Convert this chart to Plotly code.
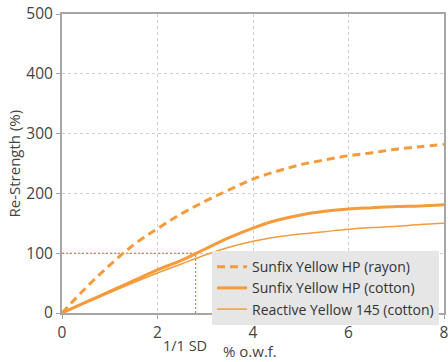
import plotly.graph_objects as go

# Data
x_vals = [0, 0.5, 1, 1.5, 2, 2.5, 3, 3.5, 4, 4.5, 5, 5.5, 6, 6.5, 7, 7.5, 8]
rayon = [0, 42, 80, 114, 141, 166, 187, 206, 224, 237, 248, 256, 263, 268, 274, 278, 282]
sunfix_cotton = [0, 18, 36, 54, 72, 88, 107, 126, 142, 155, 164, 170, 174, 176, 178, 179, 181]
reactive_cotton = [0, 17, 34, 51, 67, 82, 97, 110, 120, 127, 132, 136, 140, 143, 145, 148, 150]
series_names = ["Sunfix Yellow HP (rayon)", "Sunfix Yellow HP (cotton)", "Reactive Yellow 145 (cotton)"]
sd_x = 2.8
sd_y = 100
x_ticks = [0, 2, 4, 6, 8]
y_ticks = [0, 100, 200, 300, 400, 500]

ORANGE = "#F59B3C"
RED = "#E8553A"
FONT = "Open Sans"
TXT = "#444"

fig = go.Figure()
fig.add_trace(go.Scatter(x=[0, sd_x], y=[sd_y, sd_y], mode="lines", showlegend=False,
                         line=dict(color=RED, width=1, dash="2px,2px"), hoverinfo="skip"))
fig.add_trace(go.Scatter(x=[sd_x, sd_x], y=[0, sd_y], mode="lines", showlegend=False,
                         line=dict(color=RED, width=1, dash="2px,2px"), hoverinfo="skip"))
fig.add_trace(go.Scatter(x=x_vals, y=rayon, mode="lines", name=series_names[0],
                         line=dict(color=ORANGE, width=3, dash="8px,5px", shape="spline")))
fig.add_trace(go.Scatter(x=x_vals, y=sunfix_cotton, mode="lines", name=series_names[1],
                         line=dict(color=ORANGE, width=3, shape="spline")))
fig.add_trace(go.Scatter(x=x_vals, y=reactive_cotton, mode="lines", name=series_names[2],
                         line=dict(color=ORANGE, width=1.5, shape="spline")))

axis_common = dict(showline=True, linecolor="#a6a6a6", linewidth=2, mirror=True,
                   showgrid=True, gridcolor="#cfcfcf", griddash="dot", gridwidth=1,
                   ticks="outside", ticklen=4, tickcolor="#a6a6a6", tickwidth=1,
                   zeroline=False, automargin=False, ticklabeloverflow="allow",
                   tickfont=dict(family=FONT, size=15.5, color=TXT))

fig.update_xaxes(range=[0, 8], tickvals=x_ticks, **axis_common)
fig.update_yaxes(range=[0, 500], tickvals=y_ticks, **axis_common)

fig.add_annotation(x=-49 / 382, y=0.5, xref="paper", yref="paper", text="Re-Strength (%)", showarrow=False,
                   textangle=-90, xanchor="center", yanchor="middle",
                   font=dict(family=FONT, size=15, color=TXT))
fig.add_annotation(x=sd_x, y=0, xref="x", yref="y", text="1/1 SD", showarrow=False,
                   xanchor="center", yanchor="middle",
                   yshift=-32, xshift=-11, font=dict(family=FONT, size=14.5, color=TXT))
fig.add_annotation(x=0.5, y=0, xref="paper", yref="paper", text="% o.w.f.", showarrow=False,
                   xanchor="center", yanchor="middle",
                   yshift=-38, xshift=-3, font=dict(family=FONT, size=15, color=TXT))

fig.update_layout(
    width=448, height=362,
    margin=dict(l=62, r=4, t=14, b=49),
    paper_bgcolor="white", plot_bgcolor="white",
    legend=dict(x=0.987, y=0.207, xanchor="right", yanchor="top",
                bgcolor="#e6e6e6", font=dict(family=FONT, size=14, color="#333"),
                tracegroupgap=0, itemwidth=30),
    showlegend=True,
)

fig.write_html("out.html", config={"displayModeBar": False},
               post_script="document.body.style.margin='0';document.body.style.overflow='hidden';")
